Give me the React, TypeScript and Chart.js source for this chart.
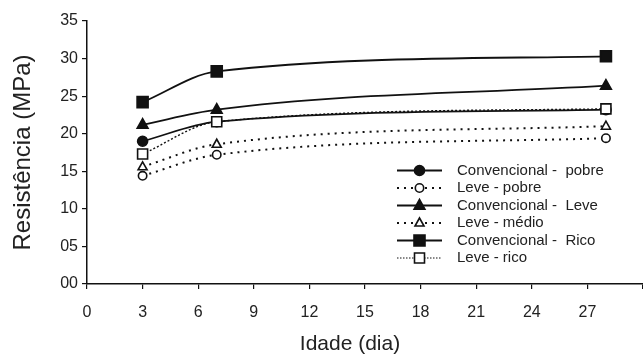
import React, { useEffect, useRef } from 'react';
import { Chart, registerables } from 'chart.js';

Chart.register(...registerables);

const ages = [3, 7, 28];
const convPobre = [19.0, 21.6, 23.2];
const levePobre = [14.4, 17.2, 19.4];
const convLeve = [21.2, 23.2, 26.4];
const leveMedio = [15.6, 18.6, 21.0];
const convRico = [24.2, 28.3, 30.3];
const leveRico = [17.3, 21.6, 23.3];

const seriesLabels = [
  'Convencional -  pobre',
  'Leve - pobre',
  'Convencional -  Leve',
  'Leve - médio',
  'Convencional -  Rico',
  'Leve - rico',
];
const seriesValues = [convPobre, levePobre, convLeve, leveMedio, convRico, leveRico];
const seriesMarkers = ['circle', 'circle', 'triangle', 'triangle', 'rect', 'rect'];
const seriesFilled = [true, false, true, false, true, false];
const seriesDash: number[][] = [[], [2, 5], [], [2, 5], [], [2, 2]];
const seriesWidth = [1.8, 2, 1.8, 2, 1.8, 1.4];

const xTitle = 'Idade (dia)';
const yTitle = 'Resistência (MPa)';

const INK = '#111';
const TXT = '#222';
const FONT = 'Arial, "Liberation Sans", sans-serif';

function drawMarker(ctx: CanvasRenderingContext2D, style: string, filled: boolean, x: number, y: number) {
  ctx.save();
  ctx.setLineDash([]);
  ctx.lineWidth = 1.6;
  ctx.strokeStyle = INK;
  ctx.fillStyle = filled ? INK : '#fff';
  ctx.beginPath();
  if (style === 'circle') {
    ctx.arc(x, y, filled ? 5 : 4.2, 0, Math.PI * 2);
  } else if (style === 'rect') {
    const h = filled ? 5.5 : 5;
    ctx.rect(x - h, y - h, 2 * h, 2 * h);
  } else {
    const r = filled ? 6 : 5;
    ctx.moveTo(x, y - r);
    ctx.lineTo(x + r * 0.9, y + r * 0.6);
    ctx.lineTo(x - r * 0.9, y + r * 0.6);
    ctx.closePath();
  }
  ctx.fill();
  ctx.stroke();
  ctx.restore();
}

const decorPlugin = {
  id: 'decor',
  afterDatasetsDraw(chart: any) {
    const ctx: CanvasRenderingContext2D = chart.ctx;
    chart.data.datasets.forEach((ds: any, i: number) => {
      const meta = chart.getDatasetMeta(i);
      meta.data.forEach((pt: any) => {
        drawMarker(ctx, seriesMarkers[i], seriesFilled[i], pt.x, pt.y);
      });
    });
  },
  afterDraw(chart: any) {
    const ctx: CanvasRenderingContext2D = chart.ctx;
    const x0 = 397;
    const x1 = 442;
    const tx = 457;
    const yStart = 170.5;
    const step = 17.5;
    seriesLabels.forEach((label, i) => {
      const y = yStart + i * step;
      ctx.save();
      ctx.strokeStyle = INK;
      ctx.lineWidth = i === 5 ? 1 : seriesWidth[i];
      ctx.setLineDash(i === 5 ? [1.5, 1.5] : seriesDash[i]);
      ctx.beginPath();
      ctx.moveTo(x0, y);
      ctx.lineTo(x1, y);
      ctx.stroke();
      ctx.restore();
      drawMarker(ctx, seriesMarkers[i], seriesFilled[i], (x0 + x1) / 2, y);
      ctx.save();
      ctx.fillStyle = TXT;
      ctx.font = `15px ${FONT}`;
      ctx.textBaseline = 'middle';
      ctx.textAlign = 'left';
      ctx.fillText(label, tx, y);
      ctx.restore();
    });
    ctx.save();
    ctx.fillStyle = TXT;
    ctx.font = `21px ${FONT}`;
    ctx.textAlign = 'center';
    ctx.textBaseline = 'alphabetic';
    ctx.fillText(xTitle, 350, 350);
    ctx.restore();
  },
};

export default function App() {
  const ref = useRef<HTMLCanvasElement | null>(null);
  useEffect(() => {
    if (!ref.current) return;
    const chart = new Chart(ref.current, {
      type: 'line',
      data: {
        datasets: seriesValues.map((vals, i) => ({
          label: seriesLabels[i],
          data: ages.map((a, j) => ({ x: a, y: vals[j] })),
          borderColor: INK,
          borderWidth: seriesWidth[i],
          borderDash: seriesDash[i],
          pointRadius: 0,
          pointHoverRadius: 0,
          cubicInterpolationMode: 'monotone' as const,
          fill: false,
        })),
      },
      options: {
        responsive: false,
        animation: false,
        maintainAspectRatio: false,
        layout: { padding: { top: 21, right: 0, bottom: 0, left: 0 } },
        plugins: {
          legend: { display: false },
          tooltip: { enabled: false },
        },
        scales: {
          x: {
            type: 'linear',
            min: 0,
            max: 30,
            afterFit: (s: any) => {
              s.height = 71;
              s.paddingRight = 0;
              s.paddingLeft = 0;
            },
            ticks: {
              stepSize: 3,
              color: TXT,
              font: { family: FONT, size: 16 },
              padding: 14,
              maxRotation: 0,
              callback: (v: any) => (Number(v) >= 30 ? '' : String(v)),
            },
            grid: { drawOnChartArea: false, tickLength: 5, color: INK, lineWidth: 1.2 },
            border: { color: INK, width: 1.5 },
          },
          y: {
            type: 'linear',
            min: 0,
            max: 35,
            afterFit: (s: any) => {
              s.width = 87;
            },
            ticks: {
              stepSize: 5,
              color: TXT,
              font: { family: FONT, size: 16 },
              padding: 4,
              callback: (v: any) => String(v).padStart(2, '0'),
            },
            grid: { drawOnChartArea: false, tickLength: 5, color: INK, lineWidth: 1.2 },
            border: { color: INK, width: 1.5 },
            title: {
              display: true,
              text: yTitle,
              color: TXT,
              font: { family: FONT, size: 24 },
              padding: { top: 9, bottom: 0 },
            },
          },
        },
      },
      plugins: [decorPlugin],
    });
    return () => chart.destroy();
  }, []);
  return (
    <div style={{ position: 'fixed', left: 0, top: 0, width: 643, height: 355, background: '#fff' }}>
      <canvas ref={ref} width={643} height={355} style={{ width: 643, height: 355 }} />
    </div>
  );
}
